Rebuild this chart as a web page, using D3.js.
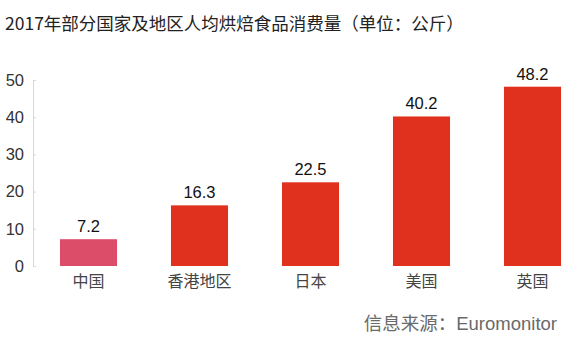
<!DOCTYPE html>
<html><head><meta charset="utf-8">
<script src="https://cdn.jsdelivr.net/npm/d3@7"></script>
<style>body{margin:0;background:#fff}svg{display:block}</style>
</head><body>
<svg id="c" width="574" height="346"></svg>
<script>
const categories = ["中国","香港地区","日本","美国","英国"];
const values = [7.2,16.3,22.5,40.2,48.2];
const valueLabels = ["7.2","16.3","22.5","40.2","48.2"];
const yTicks = [0,10,20,30,40,50];
const title = "2017年部分国家及地区人均烘焙食品消费量（单位：公斤）";
const source = "信息来源：Euromonitor";

const svg = d3.select("#c");
const font = "'Noto Sans CJK SC','Noto Sans',sans-serif";
const mixed = "'Liberation Sans','Noto Sans CJK SC',sans-serif";
const x = d3.scaleBand().domain(categories).range([33, 588]).paddingInner(0.486).paddingOuter(0.243);
const y = d3.scaleLinear().domain([0,50]).range([266,80]);

svg.append("text").attr("x",5).attr("y",30).attr("font-family",font).attr("font-size",17.5).attr("fill","#222").text(title);

const ax = svg.append("g").attr("transform","translate(33,0)").call(d3.axisLeft(y).tickValues(yTicks).tickSize(-3).tickPadding(9));
ax.select(".domain").attr("stroke","#d8d8d8");
ax.selectAll(".tick line").attr("stroke","#d8d8d8");
ax.selectAll(".tick text").attr("font-family","'Liberation Sans',Arial,sans-serif").attr("font-size",16.5).attr("fill","#333");

svg.selectAll("rect.bar").data(categories).enter().append("rect").attr("class","bar")
  .attr("x",d=>x(d)).attr("width",x.bandwidth())
  .attr("y",(d,i)=>y(values[i])).attr("height",(d,i)=>y(0)-y(values[i]))
  .attr("fill",(d,i)=>i===0?"#dc4d6a":"#e0301e");

svg.selectAll("text.val").data(categories).enter().append("text").attr("class","val")
  .attr("x",d=>x(d)+x.bandwidth()/2).attr("y",(d,i)=>y(values[i])-7)
  .attr("text-anchor","middle").attr("font-family","'Liberation Sans',Arial,sans-serif").attr("font-size",16.5).attr("fill","#111")
  .text((d,i)=>valueLabels[i]);

svg.selectAll("text.cat").data(categories).enter().append("text").attr("class","cat")
  .attr("x",d=>x(d)+x.bandwidth()/2).attr("y",287)
  .attr("text-anchor","middle").attr("font-family",font).attr("font-size",16).attr("fill","#444")
  .text(d=>d);

svg.append("text").attr("x",557).attr("y",330).attr("text-anchor","end").attr("font-family",mixed).attr("font-size",18.5).attr("fill","#6a6a6a").text(source);
</script>
</body></html>
